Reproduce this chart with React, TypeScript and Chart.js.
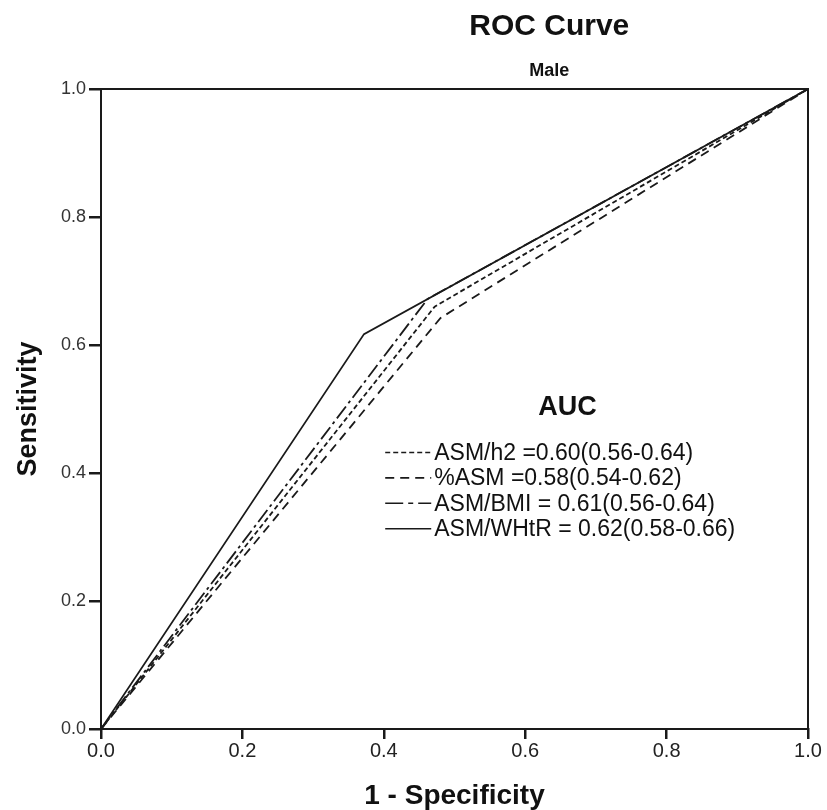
import React, { useEffect, useRef } from "react";
import { Chart, registerables } from "chart.js";

Chart.register(...registerables);

const seriesLabels = [
  "ASM/h2 =0.60(0.56-0.64)",
  "%ASM =0.58(0.54-0.62)",
  "ASM/BMI = 0.61(0.56-0.64)",
  "ASM/WHtR = 0.62(0.58-0.66)",
];
// 1 - Specificity (x) and Sensitivity (y) for each ROC curve
const h2X = [0, 0.472, 1];
const h2Y = [0, 0.66, 1];
const pctX = [0, 0.48, 1];
const pctY = [0, 0.642, 1];
const bmiX = [0, 0.462, 1];
const bmiY = [0, 0.672, 1];
const whtrX = [0, 0.372, 1];
const whtrY = [0, 0.617, 1];
const tickValues = [0, 0.2, 0.4, 0.6, 0.8, 1.0];

const dashes: number[][] = [[5, 3], [9, 6], [15, 4, 3, 4], []];
const legendDashes: number[][] = [[5, 3], [9, 6], [18, 5, 5, 5], []];
const INK = "#1a1a1a";
const FONT = "'Liberation Sans', Arial, sans-serif";

const toPts = (xs: number[], ys: number[]) => xs.map((x, i) => ({ x, y: ys[i] }));

const framePlugin = {
  id: "frameAndText",
  afterDraw(chart: any) {
    const { ctx, chartArea } = chart;
    const { left, right, top, bottom } = chartArea;
    const w = right - left;
    const h = bottom - top;
    ctx.save();
    ctx.strokeStyle = INK;
    ctx.lineWidth = 2;
    ctx.setLineDash([]);
    ctx.strokeRect(left, top, w, h);

    // titles
    ctx.fillStyle = "#111";
    ctx.textAlign = "center";
    ctx.textBaseline = "middle";
    const cx = left + w * 0.634;
    ctx.font = `bold 30px ${FONT}`;
    ctx.fillText("ROC Curve", cx, 27);
    ctx.font = `bold 18px ${FONT}`;
    ctx.fillText("Male", cx, 71);

    // legend
    const lx = left + w * 0.402;
    const ax = left + w * 0.66;
    ctx.font = `bold 27px ${FONT}`;
    ctx.fillText("AUC", ax, top + h * 0.497);
    ctx.font = `23px ${FONT}`;
    ctx.textAlign = "left";
    chart.data.datasets.forEach((ds: any, i: number) => {
      const y = top + h * 0.568 + i * 25.4;
      ctx.strokeStyle = INK;
      ctx.lineWidth = 1.6;
      ctx.setLineDash(legendDashes[i]);
      ctx.beginPath();
      ctx.moveTo(lx, y);
      ctx.lineTo(lx + 46, y);
      ctx.stroke();
      ctx.setLineDash([]);
      ctx.fillStyle = "#111";
      ctx.fillText(ds.label, lx + 49, y + 1);
    });
    ctx.restore();
  },
};

export default function App() {
  const ref = useRef<HTMLCanvasElement | null>(null);
  useEffect(() => {
    if (!ref.current) return;
    const sets = [
      [h2X, h2Y],
      [pctX, pctY],
      [bmiX, bmiY],
      [whtrX, whtrY],
    ];
    const chart = new Chart(ref.current, {
      type: "scatter",
      data: {
        datasets: sets.map(([xs, ys], i) => ({
          label: seriesLabels[i],
          data: toPts(xs, ys),
          showLine: true,
          borderColor: INK,
          borderWidth: 1.8,
          borderDash: dashes[i],
          pointRadius: 0,
          fill: false,
          tension: 0,
        })),
      },
      options: {
        animation: false,
        responsive: false,
        maintainAspectRatio: false,
        layout: { padding: { top: 89, right: 19, left: 0, bottom: 0 } },
        plugins: {
          legend: { display: false },
          tooltip: { enabled: false },
          title: { display: false },
        },
        scales: {
          x: {
            type: "linear",
            min: 0,
            max: 1,
            afterFit: (s: any) => {
              s.height = 81;
            },
            afterBuildTicks: (s: any) => {
              s.ticks = tickValues.map((v) => ({ value: v }));
            },
            grid: {
              display: true,
              drawOnChartArea: false,
              drawTicks: true,
              tickLength: 10,
              tickColor: INK,
              lineWidth: 2.5,
            },
            border: { display: true, color: INK, width: 2 },
            ticks: {
              color: "#222",
              padding: 0,
              maxRotation: 0,
              font: { family: FONT, size: 20 },
              callback: (v: any) => Number(v).toFixed(1),
            },
            title: {
              display: true,
              text: "1 - Specificity",
              color: "#111",
              font: { family: FONT, size: 28, weight: "bold", lineHeight: 1.0 },
              padding: { top: 0, bottom: 0 },
            },
          },
          y: {
            type: "linear",
            min: 0,
            max: 1,
            afterFit: (s: any) => {
              s.width = 101;
            },
            afterBuildTicks: (s: any) => {
              s.ticks = tickValues.map((v) => ({ value: v }));
            },
            grid: {
              display: true,
              drawOnChartArea: false,
              drawTicks: true,
              tickLength: 12,
              tickColor: INK,
              lineWidth: 2.5,
            },
            border: { display: true, color: INK, width: 2 },
            ticks: {
              color: "#333",
              padding: 3,
              font: { family: FONT, size: 18 },
              callback: (v: any) => Number(v).toFixed(1),
            },
            title: {
              display: true,
              text: "Sensitivity",
              color: "#111",
              font: { family: FONT, size: 27, weight: "bold" },
              padding: { top: 12, bottom: 0 },
            },
          },
        },
      },
      plugins: [framePlugin],
    });
    return () => chart.destroy();
  }, []);
  return (
    <div style={{ position: "absolute", left: 0, top: 0, width: 827, height: 810, background: "#fff" }}>
      <canvas ref={ref} width={827} height={810} style={{ display: "block", width: 827, height: 810 }} />
    </div>
  );
}
